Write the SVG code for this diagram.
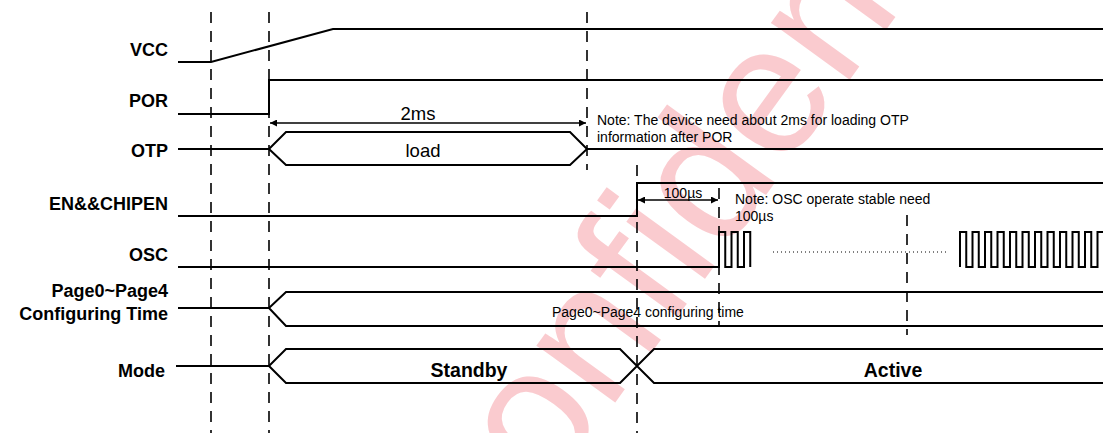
<svg xmlns="http://www.w3.org/2000/svg" width="1103" height="433" viewBox="0 0 1103 433">
<defs>
<style>
.sig{fill:none;stroke:#000;stroke-width:2}
.dash{fill:none;stroke:#000;stroke-width:1.6;stroke-dasharray:11 8}
.arr{fill:none;stroke:#000;stroke-width:1.5}
.lbl{font-family:"Liberation Sans",Arial,sans-serif;font-weight:bold;font-size:18px;fill:#000;text-anchor:end}
.txt{font-family:"Liberation Sans",Arial,sans-serif;font-size:14px;fill:#000}
.big{font-family:"Liberation Sans",Arial,sans-serif;font-size:18.5px;fill:#000;text-anchor:middle}
.mode{font-family:"Liberation Sans",Arial,sans-serif;font-weight:bold;font-size:19.5px;fill:#000;text-anchor:middle}
</style>
<marker id="ah" viewBox="0 0 10 10" refX="10" refY="5" markerWidth="8" markerHeight="7" markerUnits="userSpaceOnUse" orient="auto-start-reverse">
<path d="M0,0 L10,5 L0,10 Z" fill="#000"/>
</marker>
</defs>
<rect width="1103" height="433" fill="#fff"/>
<text transform="translate(755,210) rotate(-54)" font-family="Liberation Sans,Arial,sans-serif" font-size="184" fill="#facbcf" text-anchor="middle">Confidential</text>

<g id="guides">
<line class="dash" x1="211" y1="12" x2="211" y2="433"/>
<line class="dash" x1="269" y1="12" x2="269" y2="433"/>
<line class="dash" x1="587" y1="12" x2="587" y2="170"/>
<line class="dash" x1="637" y1="165" x2="637" y2="433"/>
<line class="dash" x1="719" y1="188" x2="719" y2="325"/>
<line class="dash" x1="907" y1="215" x2="907" y2="335"/>
</g>

<g id="vcc">
<text class="lbl" x="168" y="56">VCC</text>
<path class="sig" d="M178,62 H211 L333,29 H1103"/>
</g>
<g id="por">
<text class="lbl" x="168" y="107">POR</text>
<path class="sig" d="M178,114 H269 V80 H1103"/>
</g>
<g id="otp">
<text class="lbl" x="168" y="157">OTP</text>
<path class="sig" d="M178,149 H269 L286,132 H570 L587,149 L570,165 H286 L269,149 M587,149 H1103"/>
<text class="big" x="423" y="157">load</text>
</g>
<g id="en">
<text class="lbl" x="168" y="210">EN&amp;&amp;CHIPEN</text>
<path class="sig" d="M178,216 H637 V183 H1103"/>
</g>
<g id="osc">
<text class="lbl" x="168" y="261">OSC</text>
<path class="sig" d="M178,267 H719 V232 H725.25 V267 H731.5 V232 H737.75 V267 H744 V232 H750.25 V267"/>
<line x1="773" y1="252" x2="948" y2="252" stroke="#000" stroke-width="1" stroke-dasharray="1 3"/>
<path class="sig" d="M960,267 V232 H966.25 V267 H972.5 V232 H978.75 V267 H985 V232 H991.25 V267 H997.5 V232 H1003.75 V267 H1010 V232 H1016.25 V267 H1022.5 V232 H1028.75 V267 H1035 V232 H1041.25 V267 H1047.5 V232 H1053.75 V267 H1060 V232 H1066.25 V267 H1072.5 V232 H1078.75 V267 H1085 V232 H1091.25 V267 H1097.5 V232 H1104"/>
</g>
<g id="page">
<text class="lbl" x="168" y="297">Page0~Page4</text>
<text class="lbl" x="168" y="320">Configuring Time</text>
<path class="sig" d="M178,308 H269 L286,292 H1103 M269,308 L286,326 H1103"/>
<text class="txt" x="552" y="317">Page0~Page4 configuring time</text>
</g>
<g id="mode">
<text class="lbl" x="165" y="377">Mode</text>
<path class="sig" d="M176,366 H269 L286,349 H620 L654,383 H1103 M269,366 L286,383 H620 L654,349 H1103"/>
<text class="mode" x="469" y="377">Standby</text>
<text class="mode" x="893" y="377">Active</text>
</g>

<g id="connectors">
<line class="arr" x1="270" y1="123" x2="586" y2="123" marker-start="url(#ah)" marker-end="url(#ah)"/>
<line class="arr" x1="638" y1="200" x2="718" y2="200" marker-start="url(#ah)" marker-end="url(#ah)"/>
</g>
<g id="notes">
<text class="big" x="418" y="120">2ms</text>
<text class="txt" x="597" y="125">Note: The device need about 2ms for loading OTP</text>
<text class="txt" x="597" y="142">information after POR</text>
<text class="txt" x="683" y="197.5" text-anchor="middle" font-size="13">100µs</text>
<text class="txt" x="735" y="204">Note: OSC operate stable need</text>
<text class="txt" x="735" y="221">100µs</text>
</g>
</svg>
